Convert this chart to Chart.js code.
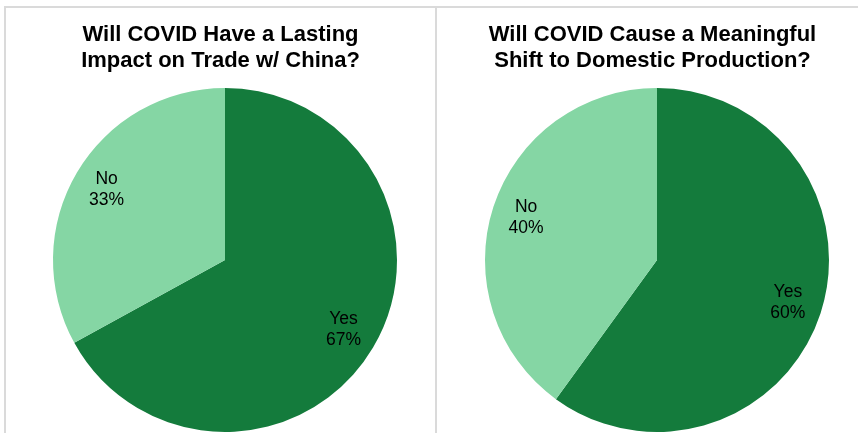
<!DOCTYPE html>
<html>
<head>
<meta charset="utf-8">
<script src="https://cdn.jsdelivr.net/npm/chart.js@4.4.1/dist/chart.umd.min.js"></script>
<style>
  html, body { margin: 0; padding: 0; background: #ffffff; }
  body { width: 858px; height: 433px; position: relative; overflow: hidden; }
  .rule { position: absolute; background: #dadada; }
  canvas { position: absolute; top: 0; }
</style>
</head>
<body>
<div class="rule" style="left:4px;top:6px;width:854px;height:2px;"></div>
<div class="rule" style="left:4px;top:6px;width:2px;height:427px;"></div>
<div class="rule" style="left:435px;top:6px;width:2px;height:427px;"></div>
<canvas id="tradeChart" width="428" height="433" style="left:6px;"></canvas>
<canvas id="productionChart" width="420" height="433" style="left:438px;"></canvas>
<script>
// Survey answers
const categories = ['Yes', 'No'];
const tradeImpact = [67, 33];
const domesticShift = [60, 40];
const tradeTitle = ['Will COVID Have a Lasting', 'Impact on Trade w/ China?'];
const productionTitle = ['Will COVID Cause a Meaningful', 'Shift to Domestic Production?'];

const sliceColors = ['#147b3c', '#85d6a4'];
const fontFamily = '"Liberation Sans", Arial, Helvetica, sans-serif';

// Two-line title drawn above the pie, slightly left of the pie centre
const panelTitle = {
  id: 'panelTitle',
  afterDraw(chart, args, opts) {
    const ctx = chart.ctx;
    const area = chart.chartArea;
    const cx = (area.left + area.right) / 2 + opts.dx;
    ctx.save();
    ctx.fillStyle = '#000000';
    ctx.font = 'bold 22px ' + fontFamily;
    ctx.textAlign = 'center';
    ctx.textBaseline = 'middle';
    opts.lines.forEach((line, i) => {
      ctx.fillText(line, cx, opts.top + i * opts.lineHeight);
    });
    ctx.restore();
  }
};

// Category name and percentage inside each slice
const sliceLabels = {
  id: 'sliceLabels',
  afterDatasetsDraw(chart) {
    const ctx = chart.ctx;
    const meta = chart.getDatasetMeta(0);
    const values = chart.data.datasets[0].data;
    ctx.save();
    ctx.fillStyle = '#000000';
    ctx.font = '17.5px ' + fontFamily;
    ctx.textAlign = 'center';
    ctx.textBaseline = 'middle';
    meta.data.forEach((arc, i) => {
      const p = arc.getProps(['x', 'y', 'startAngle', 'endAngle', 'outerRadius'], true);
      const mid = (p.startAngle + p.endAngle) / 2;
      const r = p.outerRadius * 0.8;
      const x = p.x + Math.cos(mid) * r;
      const y = p.y + Math.sin(mid) * r;
      ctx.fillText(chart.data.labels[i], x, y - 10.5);
      ctx.fillText(values[i] + '%', x, y + 10.5);
    });
    ctx.restore();
  }
};

function makePie(id, values, titleLines, padLeft) {
  return new Chart(document.getElementById(id), {
    type: 'pie',
    data: {
      labels: categories,
      datasets: [{
        data: values,
        backgroundColor: sliceColors,
        borderWidth: 0
      }]
    },
    options: {
      responsive: false,
      animation: false,
      devicePixelRatio: 1,
      events: [],
      radius: 172,
      layout: { padding: { left: padLeft, right: 0, top: 88, bottom: 1 } },
      plugins: {
        legend: { display: false },
        title: { display: false },
        tooltip: { enabled: false },
        panelTitle: { lines: titleLines, dx: -4.5, top: 35, lineHeight: 26 }
      }
    },
    plugins: [panelTitle, sliceLabels]
  });
}

makePie('tradeChart', tradeImpact, tradeTitle, 10);
makePie('productionChart', domesticShift, productionTitle, 18);
</script>
</body>
</html>
